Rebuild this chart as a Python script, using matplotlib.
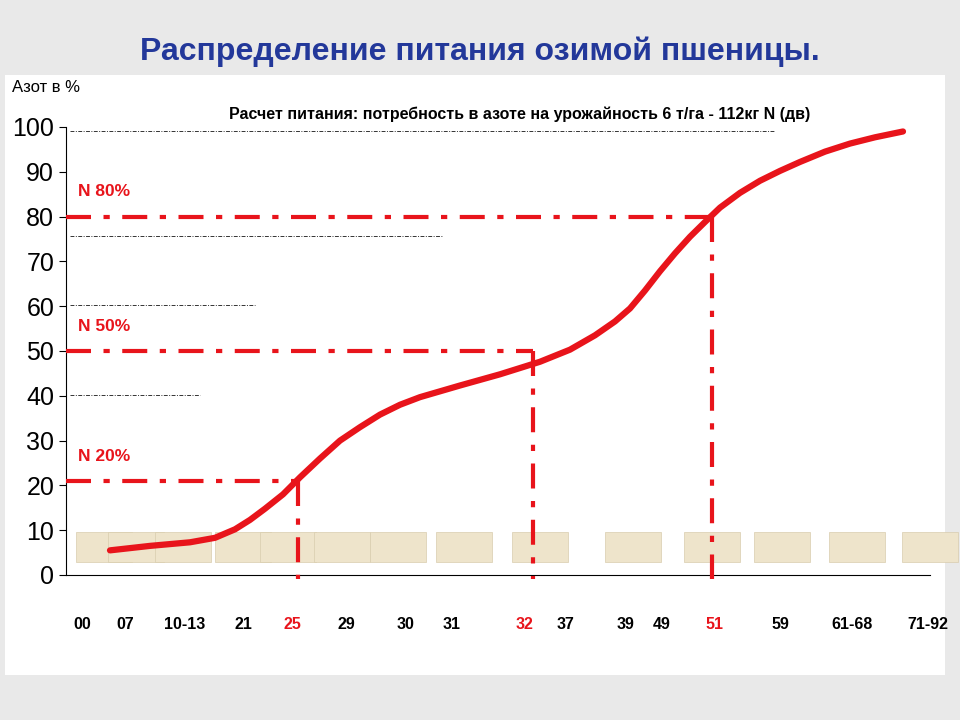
import matplotlib
matplotlib.use("Agg")
import matplotlib.pyplot as plt
from matplotlib.patches import Rectangle

stages = ["00","07","10-13","21","25","29","30","31","32","37","39","49","51","59","61-68","71-92"]
stage_x = [82,125,185,243,292,346,406,452,525,566,626,662,714,780,852,928]
highlight = ["25","32","51"]
curve_x = [110,150,190,215,235,250,265,283,300,320,340,360,380,400,420,440,460,500,540,570,595,615,630,645,660,675,690,705,720,740,760,780,800,825,850,875,903]
curve_n = [5.5,6.5,7.3,8.3,10.2,12.3,14.8,18,21.8,26,30,33,35.8,38,39.7,41,42.3,44.8,47.6,50.3,53.5,56.6,59.5,63.5,67.8,71.8,75.5,78.8,82,85.3,88,90.2,92.2,94.5,96.3,97.7,99]
levels = [80,50,21]
level_labels = ["N 80%","N 50%","N 20%"]
level_end_x = [712,533,298]
grid_levels = [99,75.7,60.3,40.2]
grid_end_x = [775,443,255,200]
soil_x = [104,136,183,243,288,342,398,464,540,633,712,782,857,930]

red = "#E8141B"
fig = plt.figure(figsize=(9.6,7.2), dpi=100)
fig.patch.set_facecolor("#E9E9E9")
fig.add_artist(Rectangle((5/960,45/720),940/960,600/720,transform=fig.transFigure,
                         facecolor="white",edgecolor="none",zorder=-5))
fig.text(480/960,1-52/720,"Распределение питания озимой пшеницы.",ha="center",va="center",
         fontsize=23,fontweight="bold",color="#23389A",family="Liberation Sans")
fig.text(12/960,1-87/720,"Азот в %",ha="left",va="center",fontsize=12,family="Liberation Sans")
fig.text(520/960,1-114/720,"Расчет питания: потребность в азоте на урожайность 6 т/га - 112кг N (дв)",
         ha="center",va="center",fontsize=11.5,fontweight="bold",family="Liberation Sans")

ax = fig.add_axes([66/960,(720-575)/720,864/960,448/720])
ax.set_facecolor("none")
ax.set_xlim(66,930); ax.set_ylim(0,100)
for s in ["top","right"]: ax.spines[s].set_visible(False)
ax.set_xticks([])
ax.set_yticks(range(0,101,10))
ax.tick_params(axis="y",labelsize=18,length=5,direction="out")
for t in ax.get_yticklabels(): t.set_family("Liberation Sans")

for x in soil_x:
    ax.add_patch(Rectangle((x-28,3),56,6.5,facecolor="#EEE4CB",edgecolor="#D8CCAE",lw=0.5,clip_on=False,zorder=1))

for y,xe in zip(grid_levels,grid_end_x):
    ax.plot([70,xe],[y,y],color="#333333",lw=0.7,ls=(0,(4,1.5,1,1.5)),zorder=2)
for y,xe,lab in zip(levels,level_end_x,level_labels):
    ax.plot([66,xe],[y,y],color=red,lw=3,ls=(0,(6,3,1.5,3)),zorder=3)
    ax.plot([xe,xe],[y,-0.8],color=red,lw=3,ls=(0,(6,3,1.5,3)),zorder=3,clip_on=False)
    ax.text(78,y+5.5,lab,color=red,fontsize=12.5,fontweight="bold",family="Liberation Sans",va="center")
ax.plot(curve_x,curve_n,color=red,lw=4.5,zorder=4,solid_capstyle="round",solid_joinstyle="round")

for s,x in zip(stages,stage_x):
    ax.text(x,-11,s,ha="center",va="center",fontsize=11.5,fontweight="bold",family="Liberation Sans",
            color=red if s in highlight else "black",clip_on=False)

fig.savefig("out.png",dpi=100,facecolor=fig.get_facecolor())
